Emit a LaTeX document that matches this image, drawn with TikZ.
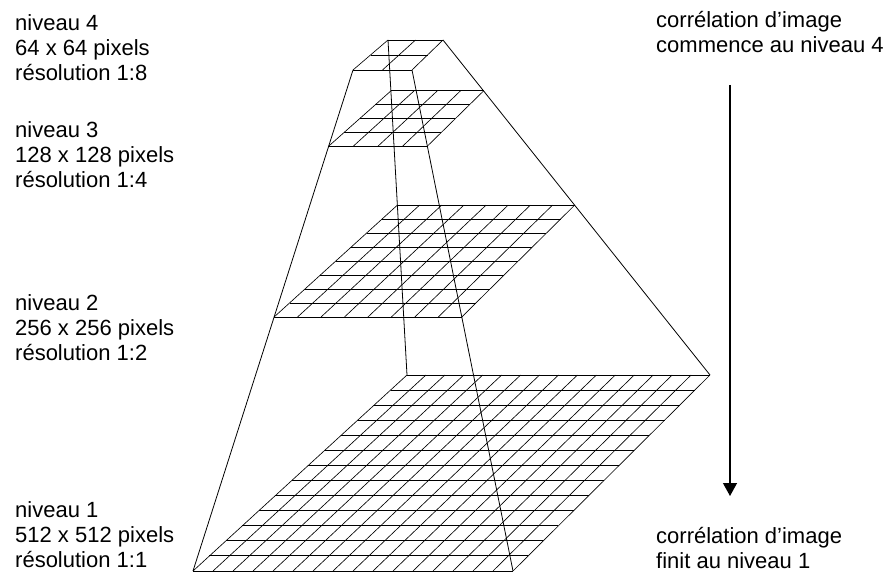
\documentclass[tikz,border=0pt]{standalone}
\usepackage{fontspec}
\setmainfont{Liberation Sans}
\usetikzlibrary{arrows.meta,calc}

\newcommand{\levelgrid}[6]{%
  \foreach \rw in {0,...,#6}
    \draw[rowline] ($(#1)!\rw/#6!(#3)$) -- ($(#2)!\rw/#6!(#4)$);
  \foreach \cl in {0,...,#5}
    \draw[colline] ($(#1)!\cl/#5!(#2)$) -- ($(#3)!\cl/#5!(#4)$);
}

\begin{document}
\begin{tikzpicture}[x=1pt,y=-1pt,
  rowline/.style={line width=0.9pt},
  colline/.style={line width=0.65pt},
  edge/.style={line width=0.8pt},
  lbl/.style={anchor=north west,inner sep=0pt,align=left,font=\fontsize{22}{25}\selectfont},
  flow/.style={line width=1.3pt,-{Triangle[width=14pt,length=13pt]}}]
  \useasboundingbox (0,0) rectangle (887,572);

  \coordinate (t4bl) at (388,40);
  \coordinate (t4br) at (443,40);
  \coordinate (t4fl) at (353,70);
  \coordinate (t4fr) at (412,70);
  \coordinate (t1bl) at (407,375);
  \coordinate (t1br) at (710,375);
  \coordinate (t1fl) at (193,571);
  \coordinate (t1fr) at (513,571);
  \foreach \k in {bl,br,fl,fr} {
    \coordinate (t3\k) at ($(t4\k)!0.152!(t1\k)$);
    \coordinate (t2\k) at ($(t4\k)!0.493!(t1\k)$);
  }

  \levelgrid{t4bl}{t4br}{t4fl}{t4fr}{2}{2}
  \levelgrid{t3bl}{t3br}{t3fl}{t3fr}{4}{4}
  \levelgrid{t2bl}{t2br}{t2fl}{t2fr}{8}{8}
  \levelgrid{t1bl}{t1br}{t1fl}{t1fr}{16}{13}
  \foreach \k in {bl,br,fl,fr} \draw[edge] (t4\k) -- (t1\k);

  \node[lbl] (lvl4txt) at (15,14) {niveau 4\\64 x 64 pixels\\résolution 1:8};
  \node[lbl] (lvl3txt) at (15,121) {niveau 3\\128 x 128 pixels\\résolution 1:4};
  \node[lbl] (lvl2txt) at (15,294) {niveau 2\\256 x 256 pixels\\résolution 1:2};
  \node[lbl] (lvl1txt) at (15,501) {niveau 1\\512 x 512 pixels\\résolution 1:1};
  \node[lbl] (starttxt) at (656,11) {corrélation d’image\\commence au niveau 4};
  \node[lbl] (endtxt) at (656,527) {corrélation d’image\\finit au niveau 1};

  \coordinate (flowtop) at (730,85);
  \coordinate (flowend) at (730,496);
  \draw[flow] (flowtop) -- (flowend);
\end{tikzpicture}
\end{document}
